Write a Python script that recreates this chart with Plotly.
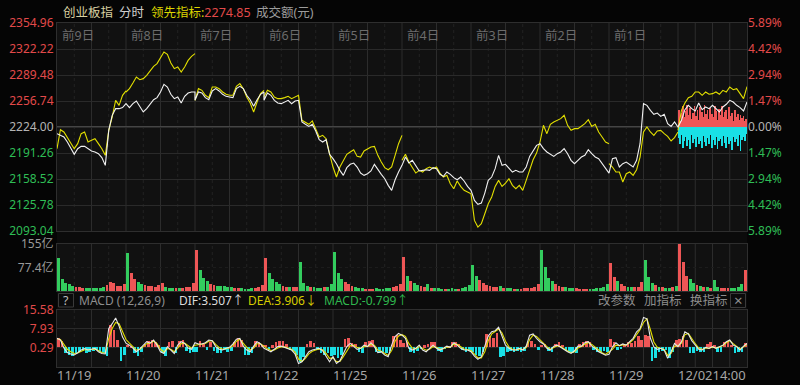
import plotly.graph_objects as go

# ---------------- data ----------------
DAYS = ["11/19", "11/20", "11/21", "11/22", "11/25", "11/26", "11/27", "11/28", "11/29", "12/02"]
DAY_TAGS = ["前9日", "前8日", "前7日", "前6日", "前5日", "前4日", "前3日", "前2日", "前1日"]
LAST_TIME = "14:00"
PRE_CLOSE = 2224.00
PRICE_TICKS = [2093.04, 2125.78, 2158.52, 2191.26, 2224.00, 2256.74, 2289.48, 2322.22, 2354.96]
PCT_TICKS = ["5.89%", "4.42%", "2.94%", "1.47%", "0.00%", "1.47%", "2.94%", "4.42%", "5.89%"]
VOL_TICKS = [77.4, 155]
VOL_TICKTEXT = ["77.4亿", "155亿"]
MACD_TICKS = [0.29, 7.93, 15.58]
MACD_BASE = 0.29

# index price (white), 21 samples per day (open ... close)
index_price = [
    [2215.6, 2213.5, 2211.4, 2205.1, 2196.7, 2189.6, 2196.7, 2199.6, 2199.6, 2196.7, 2193.8, 2192.5, 2190.4, 2185.4, 2175.7, 2219.8, 2238.7, 2247.1, 2247.1, 2248.4, 2253.4],
    [2253.4, 2248.4, 2253.4, 2256.8, 2250.0, 2242.9, 2247.1, 2253.4, 2258.4, 2261.0, 2268.1, 2277.8, 2274.4, 2265.2, 2259.7, 2261.8, 2254.2, 2262.6, 2266.8, 2268.1, 2268.1],
    [2257.6, 2268.1, 2266.8, 2261.0, 2258.4, 2269.4, 2272.3, 2269.4, 2265.2, 2262.6, 2261.8, 2261.0, 2272.3, 2275.2, 2272.3, 2263.9, 2258.4, 2250.0, 2258.4, 2265.2, 2268.1],
    [2257.6, 2266.8, 2263.9, 2257.6, 2254.2, 2253.4, 2255.5, 2257.6, 2253.4, 2256.8, 2257.6, 2230.3, 2227.4, 2224.8, 2227.4, 2219.0, 2208.0, 2205.1, 2208.0, 2189.6, 2184.1],
    [2184.1, 2177.8, 2169.4, 2163.1, 2172.8, 2177.0, 2178.6, 2173.6, 2166.0, 2163.1, 2165.2, 2168.6, 2177.0, 2170.2, 2164.4, 2158.9, 2150.5, 2144.2, 2157.6, 2167.3, 2175.7],
    [2175.7, 2186.2, 2178.6, 2182.0, 2174.4, 2168.6, 2169.4, 2170.2, 2169.4, 2172.8, 2171.5, 2164.4, 2161.8, 2167.3, 2164.4, 2160.2, 2157.6, 2161.0, 2156.0, 2149.2, 2144.2],
    [2144.2, 2131.6, 2126.6, 2128.2, 2140.8, 2156.8, 2161.0, 2171.5, 2188.3, 2175.7, 2177.0, 2171.5, 2167.3, 2169.4, 2167.3, 2167.3, 2173.6, 2187.0, 2193.8, 2200.9, 2203.0],
    [2203.0, 2196.7, 2192.5, 2189.6, 2187.0, 2190.4, 2192.5, 2196.7, 2190.4, 2182.0, 2177.8, 2182.0, 2186.2, 2188.3, 2195.4, 2190.4, 2186.2, 2184.1, 2177.8, 2171.5, 2166.0],
    [2166.0, 2184.1, 2185.4, 2173.6, 2177.8, 2179.9, 2177.0, 2173.6, 2182.0, 2203.0, 2253.4, 2251.3, 2245.0, 2240.0, 2241.6, 2237.4, 2240.0, 2228.2, 2224.8, 2230.3, 2224.0],
    [2224.0, 2232.4, 2245.8, 2251.3, 2247.1, 2244.2, 2254.2, 2245.8, 2249.2, 2247.1, 2251.3, 2247.1, 2242.9, 2249.2, 2252.6, 2257.6, 2255.5, 2251.3, 2248.4, 2244.2, 2255.5],
]

# leading indicator (yellow), 21 samples per day
lead_price = [
    [2196.7, 2220.6, 2217.7, 2210.6, 2205.1, 2196.7, 2203.0, 2215.6, 2217.7, 2205.1, 2207.2, 2209.3, 2203.0, 2196.7, 2188.3, 2219.8, 2236.6, 2257.6, 2251.3, 2263.9, 2269.4],
    [2268.1, 2272.3, 2279.4, 2287.0, 2283.6, 2284.9, 2289.1, 2295.4, 2300.4, 2303.8, 2311.4, 2318.5, 2315.6, 2304.6, 2297.5, 2299.6, 2293.3, 2299.6, 2307.9, 2313.0, 2316.4],
    [2257.6, 2272.3, 2270.2, 2263.9, 2261.0, 2274.4, 2274.4, 2272.3, 2268.1, 2265.2, 2263.9, 2263.9, 2275.2, 2278.6, 2272.3, 2261.8, 2254.2, 2242.9, 2255.5, 2266.0, 2270.2],
    [2262.0, 2270.2, 2268.1, 2261.8, 2259.7, 2259.7, 2261.0, 2262.6, 2259.7, 2261.8, 2263.9, 2232.4, 2230.3, 2227.4, 2231.6, 2220.6, 2211.4, 2213.5, 2209.3, 2190.4, 2173.6],
    [2173.6, 2161.0, 2173.6, 2182.0, 2189.6, 2192.5, 2195.4, 2187.0, 2186.2, 2193.8, 2196.7, 2198.8, 2199.6, 2188.3, 2179.9, 2172.8, 2170.2, 2173.6, 2188.3, 2203.0, 2213.5],
    [2182.0, 2189.6, 2179.9, 2173.6, 2166.0, 2169.4, 2167.3, 2171.5, 2173.6, 2171.5, 2173.6, 2166.0, 2161.0, 2163.1, 2152.6, 2146.3, 2156.0, 2149.2, 2144.2, 2142.1, 2140.0],
    [2140.0, 2106.4, 2098.0, 2102.2, 2114.8, 2127.4, 2135.8, 2149.2, 2156.8, 2149.2, 2153.4, 2158.9, 2150.5, 2146.3, 2150.5, 2144.2, 2156.8, 2170.2, 2182.8, 2191.2, 2205.1],
    [2205.1, 2226.1, 2215.6, 2227.4, 2230.3, 2232.4, 2234.5, 2238.7, 2226.1, 2219.8, 2221.9, 2221.9, 2224.8, 2228.2, 2233.2, 2224.8, 2227.4, 2217.7, 2211.4, 2205.1, 2203.0],
    [2177.8, 2173.6, 2167.3, 2167.3, 2154.7, 2165.2, 2167.3, 2163.1, 2170.2, 2186.2, 2217.7, 2224.0, 2217.7, 2213.5, 2219.0, 2219.8, 2215.6, 2212.2, 2206.4, 2210.6, 2217.7],
    [2219.8, 2245.0, 2254.2, 2261.0, 2262.6, 2268.1, 2268.1, 2263.9, 2268.1, 2265.2, 2266.0, 2268.1, 2265.2, 2270.2, 2268.1, 2274.4, 2271.0, 2272.3, 2266.0, 2259.7, 2274.85],
]

# leading-indicator power bars on the current day (price units around pre-close)
lead_buy = [22, 8, 18, 26, 12, 20, 28, 15, 24, 10, 18, 27, 14, 22, 9, 25, 19, 12, 28, 16, 21, 10, 24, 17,
            13, 26, 20, 9, 23, 15, 27, 12, 19, 22, 10, 25, 14, 18, 8, 21, 13, 17, 9, 15, 11, 14, 8, 10]
lead_sell = [-14, -22, -10, -26, -18, -12, -24, -16, -28, -10, -20, -15, -25, -12, -22, -18, -27, -11, -19, -24, -14, -21, -10, -26,
             -16, -23, -12, -28, -18, -15, -24, -11, -20, -26, -13, -22, -17, -29, -12, -19, -15, -24, -10, -30, -16, -12, -18, -9]

# turnover (亿元), 20 bars per day
volume = [
    [110, 40, 28, 22, 18, 14, 12, 10, 10, 9, 10, 11, 9, 12, 20, 30, 26, 18, 16, 22],
    [125, 60, 38, 30, 24, 20, 18, 16, 14, 20, 25, 12, 10, 10, 9, 9, 10, 12, 14, 28],
    [135, 70, 42, 32, 24, 20, 18, 16, 15, 14, 12, 10, 9, 9, 8, 8, 9, 10, 12, 20],
    [108, 60, 40, 30, 22, 16, 14, 12, 12, 14, 97, 28, 18, 14, 12, 10, 10, 12, 14, 22],
    [130, 60, 40, 30, 22, 16, 12, 10, 9, 8, 8, 8, 9, 8, 8, 9, 10, 12, 16, 24],
    [113, 48, 34, 26, 20, 16, 12, 22, 10, 9, 9, 8, 8, 8, 9, 8, 8, 10, 12, 20],
    [86, 48, 36, 26, 20, 15, 12, 12, 16, 10, 10, 9, 8, 8, 8, 9, 10, 10, 12, 22],
    [135, 78, 44, 32, 24, 18, 14, 12, 10, 9, 9, 8, 8, 8, 8, 8, 9, 10, 12, 24],
    [91, 45, 32, 24, 18, 14, 12, 12, 14, 30, 102, 45, 28, 20, 14, 12, 10, 10, 12, 18],
    [155, 97, 50, 38, 28, 20, 16, 14, 12, 10, 35, 14, 10, 9, 9, 10, 10, 12, 22, 69],
]

# MACD(12,26,9): 20 samples per day + final value
dif = [
    [4.0, 3.3, 0.0, -1.8, -2.4, -2.8, -1.9, -0.8, -0.2, -0.8, -0.5, -0.1, -1.5, -2.2, -2.4, 8.0, 10.0, 12.3, 9.0, 4.5],
    [2.0, 1.2, 0.0, -1.5, -0.3, 1.2, 2.6, 2.0, 3.3, 1.2, -1.5, -2.2, 0.6, -0.8, -2.2, 1.2, 2.6, 1.9, 0.0, -0.5],
    [2.2, 1.7, 1.7, 2.2, 3.3, 3.0, 0.6, -0.5, -0.8, -0.1, 0.3, 1.7, 3.6, 4.0, 0.8, -0.8, -1.5, 0.8, 2.6, 1.7],
    [-0.1, -0.8, -1.5, -0.5, 0.6, 0.8, 0.3, -0.3, -0.8, -2.4, -6.3, -5.6, -3.3, -1.5, -0.8, -0.5, -0.1, -1.1, -3.3, -5.6],
    [-3.5, -6.3, -5.2, -2.2, 0.6, 1.9, 0.8, -0.5, -0.1, 1.2, 0.6, 2.2, 0.6, -1.9, -1.5, -2.9, -3.5, 1.2, 4.7, 6.0],
    [5.3, 4.0, -0.1, -0.8, -0.1, 1.2, -0.8, -1.5, -0.1, 1.2, -0.1, -0.8, -0.1, 0.8, 0.3, 2.2, 1.2, -0.1, -0.8, -0.8],
    [-1.5, -3.3, -4.6, -3.5, 0.8, 4.9, 6.7, 7.1, 8.5, 4.7, 1.2, -0.1, -0.8, -0.8, -0.1, -0.8, 0.8, 5.3, 5.8, 4.0],
    [2.6, 1.7, -0.1, -0.8, 0.8, 1.2, 0.3, -0.8, -1.5, -2.2, -1.1, 0.8, 0.8, 2.2, 2.6, 0.8, -0.1, -1.5, -2.2, -2.9],
    [-2.5, 0.5, 2.2, 1.0, 1.7, 1.2, 2.6, 4.0, 6.7, 8.0, 12.5, 12.0, 4.0, 0.5, -0.5, -0.1, -0.8, -4.2, -1.5, 1.9],
    [0.6, 2.6, 6.7, 5.8, 3.0, 1.2, -0.5, -0.8, 0.3, -0.1, 0.6, -0.1, 0.6, 1.2, 2.6, 3.3, 1.2, 0.6, -0.8, 0.8],
]
dif_last = 1.9
dea = [
    [3.8, 3.5, 1.5, -0.5, -1.5, -2.2, -2.0, -1.3, -0.7, -0.7, -0.6, -0.4, -1.0, -1.8, -2.1, 4.0, 8.0, 10.5, 10.0, 6.5],
    [3.5, 2.0, 0.8, -0.8, -0.6, 0.5, 1.8, 2.1, 2.8, 1.8, -0.5, -1.6, -0.2, -0.5, -1.5, 0.0, 1.8, 2.0, 0.8, 0.0],
    [1.2, 1.5, 1.6, 1.9, 2.8, 3.0, 1.5, 0.2, -0.5, -0.3, 0.0, 1.0, 2.8, 3.6, 2.0, 0.3, -0.8, 0.0, 1.8, 1.8],
    [0.8, -0.3, -1.0, -0.8, 0.0, 0.5, 0.5, 0.0, -0.5, -1.6, -4.5, -5.5, -4.2, -2.4, -1.3, -0.8, -0.4, -0.7, -2.2, -4.2],
    [-4.0, -5.5, -5.5, -3.5, -1.0, 1.0, 1.2, 0.2, -0.1, 0.6, 0.7, 1.5, 1.2, -0.8, -1.3, -2.3, -3.0, -1.0, 2.8, 5.0],
    [5.5, 4.8, 1.8, 0.0, -0.3, 0.6, 0.0, -0.9, -0.5, 0.6, 0.3, -0.5, -0.3, 0.4, 0.4, 1.5, 1.5, 0.5, -0.4, -0.7],
    [-1.0, -2.5, -4.0, -4.0, -1.5, 3.0, 5.8, 6.8, 7.8, 6.2, 2.8, 0.5, -0.5, -0.8, -0.4, -0.6, 0.2, 3.5, 5.3, 4.8],
    [3.3, 2.2, 0.6, -0.5, 0.2, 0.9, 0.6, -0.4, -1.2, -1.9, -1.5, 0.0, 0.6, 1.6, 2.3, 1.5, 0.3, -1.0, -1.9, -2.6],
    [-1.5, -0.5, 1.2, 1.0, 1.3, 1.3, 2.2, 3.5, 5.5, 7.5, 10.5, 12.0, 7.5, 2.5, 0.3, -0.2, -0.6, -3.0, -2.2, 0.8],
    [1.0, 2.0, 5.5, 6.0, 3.8, 1.8, 0.0, -0.6, 0.0, 0.0, 0.4, 0.1, 0.4, 1.0, 2.2, 3.0, 1.8, 0.8, -0.4, 0.5],
]
dea_last = 1.5
macd_hist = [
    [3.8, 2.5, -2.5, -3.0, -3.5, -2.5, -2.0, -1.5, -2.5, -2.0, -1.5, -1.0, -2.0, -2.5, -3.5, 9.3, 7.0, 3.0, -5.7, -3.0],
    [1.0, 0.5, -2.5, -3.5, -2.0, 1.5, 2.5, 3.0, 2.0, 1.0, -2.5, -3.5, 2.0, 2.5, -2.5, 2.5, 3.0, -1.5, -2.5, -2.0],
    [-1.8, 2.5, 1.5, -1.0, 2.0, -1.5, -2.5, -2.2, -1.0, -1.8, -1.5, 2.0, 3.8, 3.0, -3.0, -3.2, -2.5, 2.5, 2.2, 1.0],
    [1.0, -1.0, 0.8, 2.0, 2.8, 2.5, 1.5, -1.0, -1.5, -3.0, -5.8, -4.0, 1.5, 2.5, 1.8, -1.0, -2.5, -3.0, -2.5, -3.5],
    [-3.0, -4.5, -3.0, 3.5, 3.8, 1.8, 1.5, -2.0, -2.5, 2.2, 2.5, 3.0, -2.0, -2.5, -2.0, -2.5, -1.5, 4.5, 5.0, 3.0],
    [1.8, 2.0, -2.0, -2.5, -1.5, -0.5, 0.8, 1.5, 2.2, 2.0, -1.5, -1.8, -0.5, 0.5, 2.2, 2.0, 1.5, -1.0, -1.8, -1.5],
    [-2.0, -3.0, -3.5, -2.0, 5.5, 4.5, 4.0, 6.0, -4.0, -3.5, -2.0, -1.5, -1.8, -1.5, -2.0, -1.5, 2.0, 2.5, 1.5, -1.0],
    [1.0, 1.2, -1.5, -2.0, 1.5, 2.0, 1.0, -1.5, -2.0, -2.2, -2.5, 1.5, 2.0, 2.5, 2.2, -1.0, -1.8, -2.0, -1.5, -1.8],
    [3.5, 2.0, -1.0, -0.8, 1.5, 2.0, 1.8, 2.5, 4.5, 3.0, 5.0, 4.5, -5.6, -4.5, -2.0, -1.5, -1.0, -4.5, -2.0, 3.0],
    [3.5, 4.5, 3.0, -2.5, -2.5, -1.5, -2.0, -1.8, 1.5, 2.0, 1.0, -2.0, -1.8, 2.2, 2.5, 1.0, -2.5, -2.0, -2.0, 1.8],
]

# ---------------- styles ----------------
W, H = 800, 385
X0, X1 = 57, 747
BG_PAPER = "#050505"
BG_PLOT = "#111111"
GRID = "#2a2a2a"
RED = "#ee5656"
GREEN = "#33cc5e"
CYAN = "#19e0e6"
RED_TXT = "#e24a4a"
GREEN_TXT = "#2fbd55"
GRAY_TXT = "#b4b4b4"
WHITE_LINE = "#f2f2f2"
YELLOW_LINE = "#e2df00"
FONT = "Noto Sans, Noto Sans CJK SC, sans-serif"
NDAY = len(DAYS)


def py(px):  # pixel row -> paper y
    return 1 - px / H


def pxx(px):  # pixel col -> paper x
    return px / W


fig = go.Figure()

# white index line
wx, wy = [], []
for d, vals in enumerate(index_price):
    n = len(vals) - 1
    for i, v in enumerate(vals):
        wx.append(d + i / n)
        wy.append(v)
# yellow leading indicator, broken at each day
lx, ly = [], []
for d, vals in enumerate(lead_price):
    n = len(vals) - 1
    for i, v in enumerate(vals):
        lx.append(d + i / n)
        ly.append(v)
    lx.append(None)
    ly.append(None)

# power bars on current day
nb = len(lead_buy)
bx = [NDAY - 1 + (i + 0.5) / nb for i in range(nb)]
fig.add_trace(go.Bar(x=bx, y=lead_buy, base=PRE_CLOSE, width=0.55 / nb, marker=dict(color=RED, line_width=0),
                     xaxis="x", yaxis="y", showlegend=False, hoverinfo="skip"))
fig.add_trace(go.Bar(x=bx, y=lead_sell, base=PRE_CLOSE, width=0.55 / nb, marker=dict(color=CYAN, line_width=0),
                     xaxis="x", yaxis="y", showlegend=False, hoverinfo="skip"))
fig.add_trace(go.Scatter(x=lx, y=ly, mode="lines", line=dict(color=YELLOW_LINE, width=1.1),
                         xaxis="x", yaxis="y", showlegend=False, hoverinfo="skip"))
fig.add_trace(go.Scatter(x=wx, y=wy, mode="lines", line=dict(color=WHITE_LINE, width=1.1),
                         xaxis="x", yaxis="y", showlegend=False, hoverinfo="skip"))
# invisible trace for right-hand % axis
fig.add_trace(go.Scatter(x=[0, NDAY], y=[PRICE_TICKS[0], PRICE_TICKS[-1]], mode="markers", marker=dict(opacity=0),
                         xaxis="x", yaxis="y4", showlegend=False, hoverinfo="skip"))

# volume bars
vx, vy, vc = [], [], []
for d, vals in enumerate(volume):
    n = len(vals)
    for i, v in enumerate(vals):
        vx.append(d + (i + 0.5) / n)
        vy.append(v)
        up = index_price[d][i + 1] >= index_price[d][i]
        vc.append(RED if up else GREEN)
fig.add_trace(go.Bar(x=vx, y=vy, width=0.85 / 20, marker=dict(color=vc, line_width=0),
                     xaxis="x2", yaxis="y2", showlegend=False, hoverinfo="skip"))

# MACD histogram
hx, hy, hc = [], [], []
for d, vals in enumerate(macd_hist):
    n = len(vals)
    for i, v in enumerate(vals):
        hx.append(d + (i + 0.5) / n)
        hy.append(v)
        hc.append(RED if v >= 0 else CYAN)
fig.add_trace(go.Bar(x=hx, y=hy, base=MACD_BASE, width=0.75 / 20, marker=dict(color=hc, line_width=0),
                     xaxis="x3", yaxis="y3", showlegend=False, hoverinfo="skip"))


def series(arr, last):
    xs, ys = [], []
    for d, vals in enumerate(arr):
        n = len(vals)
        for i, v in enumerate(vals):
            xs.append(d + i / n)
            ys.append(v)
    xs.append(NDAY)
    ys.append(last)
    return xs, ys


dx, dy = series(dif, dif_last)
ex, ey = series(dea, dea_last)
fig.add_trace(go.Scatter(x=ex, y=ey, mode="lines", line=dict(color=YELLOW_LINE, width=1.1),
                         xaxis="x3", yaxis="y3", showlegend=False, hoverinfo="skip"))
fig.add_trace(go.Scatter(x=dx, y=dy, mode="lines", line=dict(color="#e6e6e6", width=1.1),
                         xaxis="x3", yaxis="y3", showlegend=False, hoverinfo="skip"))

# ---------------- axes ----------------
xdom = [pxx(X0), pxx(X1)]
main_dom = [py(231), py(23)]
vol_dom = [py(291), py(244)]
macd_dom = [py(367), py(310)]


def col(v):
    if abs(v - PRE_CLOSE) < 1e-6:
        return GRAY_TXT
    return RED_TXT if v > PRE_CLOSE else GREEN_TXT


price_text = [f"<span style='color:{col(v)}'>{v:.2f}</span>" for v in PRICE_TICKS]
pct_text = [f"<span style='color:{col(v)}'>{t}</span>" for v, t in zip(PRICE_TICKS, PCT_TICKS)]
macd_text = [f"{v:.2f}" for v in MACD_TICKS]

axis_common = dict(showline=True, mirror=True, linecolor="#2e2e2e", linewidth=1, zeroline=False, automargin=False)
tickfont = dict(family=FONT, size=12)

date_vals = [d + 0.25 for d in range(NDAY)] + [NDAY - 0.26]
date_text = DAYS + [LAST_TIME]

fig.update_layout(
    width=W, height=H, margin=dict(l=0, r=0, t=0, b=0, autoexpand=False),
    paper_bgcolor=BG_PAPER, plot_bgcolor=BG_PLOT, barmode="overlay", bargap=0,
    font=dict(family=FONT, color=GRAY_TXT, size=12),
    xaxis=dict(domain=xdom, range=[0, NDAY], anchor="y", showticklabels=False, showgrid=False, ticks="", **axis_common),
    xaxis2=dict(domain=xdom, range=[0, NDAY], anchor="y2", matches="x", showticklabels=False, showgrid=False, ticks="", **axis_common),
    xaxis3=dict(domain=xdom, range=[0, NDAY], anchor="y3", matches="x", showgrid=False, ticks="", tickangle=0,
                ticklabelstandoff=-4,
                tickvals=date_vals, ticktext=date_text, tickfont=dict(family=FONT, size=13, color="#a6a6a6"), **axis_common),
    yaxis=dict(domain=main_dom, range=[PRICE_TICKS[0], PRICE_TICKS[-1]], anchor="x", tickvals=PRICE_TICKS, ticktext=price_text,
               showgrid=True, gridcolor=GRID, gridwidth=1, ticks="", tickfont=tickfont, **axis_common),
    yaxis4=dict(domain=main_dom, range=[PRICE_TICKS[0], PRICE_TICKS[-1]], overlaying="y", side="right", anchor="x",
                tickvals=PRICE_TICKS, ticktext=pct_text, showgrid=False, ticks="", tickfont=tickfont, zeroline=False,
                showline=False, automargin=False),
    yaxis2=dict(domain=vol_dom, range=[0, 155.2], anchor="x2", tickvals=VOL_TICKS, ticktext=VOL_TICKTEXT,
                showgrid=True, gridcolor="#1c1c1c", griddash="dot", ticks="", tickfont=dict(family=FONT, size=12, color="#9a9a9a"), **axis_common),
    yaxis3=dict(domain=macd_dom, range=[-7.75, 15.6], anchor="x3", tickvals=MACD_TICKS, ticktext=macd_text,
                showgrid=True, gridcolor=GRID, ticks="", tickfont=dict(family=FONT, size=12, color=RED_TXT), **axis_common),
)

# ---------------- shapes ----------------
shapes = []
# darker bands
for (t, b) in [(231.5, 243.5), (291.5, 309.5)]:
    shapes.append(dict(type="rect", xref="paper", yref="paper", x0=pxx(X0), x1=pxx(X1), y0=py(b), y1=py(t),
                       fillcolor="#0b0b0b", line_width=0, layer="below"))
# vertical grid lines
for yr in ["y domain", "y2 domain", "y3 domain"]:
    xr = {"y domain": "x", "y2 domain": "x2", "y3 domain": "x3"}[yr]
    for d in range(NDAY):
        for q, style in [(0, "solid"), (0.5, "solid"), (0.25, "dot"), (0.75, "dot")]:
            xv = d + q
            if xv == 0:
                continue
            if d == NDAY - 1 and q in (0.25, 0.75):
                style = "solid"
            colr = "#2c2c2c" if style == "solid" else "#232323"
            shapes.append(dict(type="line", xref=xr, yref=yr, x0=xv, x1=xv, y0=0, y1=1,
                               line=dict(color=colr, width=1, dash=style), layer="below"))
# pre-close line (brighter)
shapes.append(dict(type="line", xref="x", yref="y", x0=0, x1=NDAY, y0=PRE_CLOSE, y1=PRE_CLOSE,
                   line=dict(color="#454545", width=2), layer="below"))
# MACD base line
shapes.append(dict(type="line", xref="x3", yref="y3", x0=0, x1=NDAY, y0=MACD_BASE, y1=MACD_BASE,
                   line=dict(color="#4a4a4a", width=1), layer="below"))
# "?" box and close box
shapes.append(dict(type="rect", xref="paper", yref="paper", x0=pxx(58.5), x1=pxx(73.5), y0=py(307), y1=py(293.5),
                   line=dict(color="#3a3a3a", width=1), fillcolor="#0b0b0b"))
shapes.append(dict(type="rect", xref="paper", yref="paper", x0=pxx(730.5), x1=pxx(745.5), y0=py(307.5), y1=py(293.5),
                   line=dict(color="#3a3a3a", width=1), fillcolor="#0b0b0b"))
fig.update_layout(shapes=shapes)

# ---------------- annotations ----------------
ann = []


def text(x, y, s, color, size=12.5, anchor="left"):
    ann.append(dict(x=pxx(x), y=py(y), xref="paper", yref="paper", text=s, showarrow=False,
                    xanchor=anchor, yanchor="middle", font=dict(family=FONT, size=size, color=color)))


text(61, 12.5, "创业板指", "#d9d2a2")
text(117, 12.5, "分时", "#cfcfcf")
text(149, 12.5, f"领先指标:<span style='color:{RED_TXT}'>{lead_price[-1][-1]:.2f}</span>", "#dcd400")
text(254, 12.5, "成交额(元)", "#9c9c9c")

for d, tag in enumerate(DAY_TAGS):
    ann.append(dict(x=d + 0.04, y=py(35), xref="x", yref="paper", text=tag, showarrow=False, xanchor="left",
                    yanchor="middle", font=dict(family=FONT, size=12.5, color="#6c6c6c")))

text(66, 300, "?", "#bdbdbd", anchor="center")
text(77, 300, "MACD (12,26,9)", "#8e8e8e", size=12)
text(177, 300, "DIF:3.507↑", "#dcdcdc", size=12)
text(246, 300, "DEA:3.906↓", "#d6cc00", size=12)
text(322, 300, "MACD:-0.799↑", "#2fb84e", size=12)
text(596, 300, "改参数", "#8e8e8e")
text(642, 300, "加指标", "#8e8e8e")
text(688, 300, "换指标", "#8e8e8e")
text(738, 300, "×", "#8e8e8e", size=15, anchor="center")
fig.update_layout(annotations=ann)

fig.write_html("out.html")
